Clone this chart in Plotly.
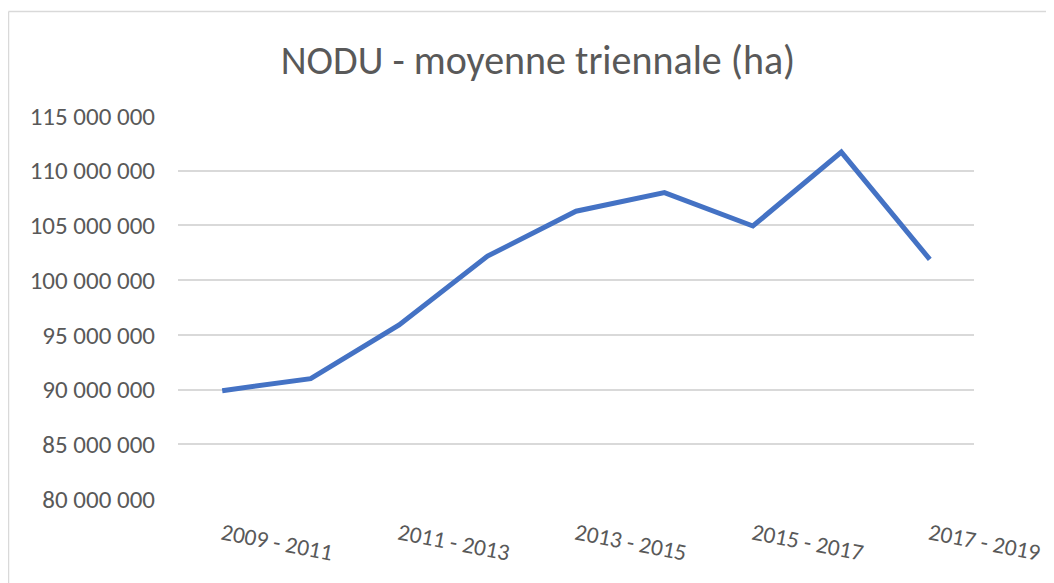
import plotly.graph_objects as go

categories = ["2009 - 2011", "2010 - 2012", "2011 - 2013", "2012 - 2014", "2013 - 2015",
              "2014 - 2016", "2015 - 2017", "2016 - 2018", "2017 - 2019"]
nodu_ha = [89.9e6, 91.0e6, 95.9e6, 102.2e6, 106.3e6, 108.0e6, 104.95e6, 111.7e6, 101.9e6]
shown_labels = categories[::2]
y_ticks = [80e6, 85e6, 90e6, 95e6, 100e6, 105e6, 110e6, 115e6]

FONT = "Carlito, Calibri, Lato, sans-serif"
GREY = "#595959"

fig = go.Figure(go.Scatter(
    x=categories, y=nodu_ha, mode="lines",
    line=dict(color="#4472C4", width=5),
    hoverinfo="x+y"))

# page body has an 8px margin, so the figure is drawn 8px in from the top-left
OFF = 8
W, H = 1054 - OFF, 583 - OFF
L, R, T, B = 178 - OFF, 80, 116 - OFF, 84
pw, ph = W - L - R, H - T - B

def px(xp):
    return (xp - OFF - L) / pw

def py(yp):
    return (H - B - (yp - OFF)) / ph

fig.update_layout(
    width=W, height=H,
    margin=dict(l=L, r=R, t=T, b=B, autoexpand=False),
    paper_bgcolor="white", plot_bgcolor="white",
    separators=", ",
    showlegend=False,
    font=dict(family=FONT, color=GREY),
    title=dict(text="NODU - moyenne triennale (ha)", x=(538 - OFF) / W, xanchor="center",
               y=1 - (60 - OFF) / H, yanchor="middle", yref="container",
               font=dict(size=40, color=GREY, family=FONT)),
    xaxis=dict(type="category", range=[-0.5, 8.5], showgrid=False, zeroline=False,
               showline=False, tickmode="array", tickvals=shown_labels, ticktext=shown_labels,
               tickangle=11, ticks="", ticklabelstandoff=16, automargin=False,
               tickfont=dict(size=23.5, color=GREY, family=FONT)),
    yaxis=dict(range=[80e6, 115e6], tickvals=y_ticks, tickformat=",d",
               showgrid=True, gridcolor="#D9D9D9", gridwidth=1.5, zeroline=False,
               showline=False, ticks="", ticklabelstandoff=22, automargin=False,
               tickfont=dict(size=25, color=GREY, family=FONT)),
    shapes=[
        dict(type="line", xref="paper", yref="paper", x0=px(8.5), x1=px(8.5),
             y0=py(583), y1=py(11.5), line=dict(color="#D9D9D9", width=1.5)),
        dict(type="line", xref="paper", yref="paper", x0=px(8.5), x1=px(1054),
             y0=py(11.5), y1=py(11.5), line=dict(color="#D9D9D9", width=1.5)),
    ],
)

fig.write_html("out.html")
